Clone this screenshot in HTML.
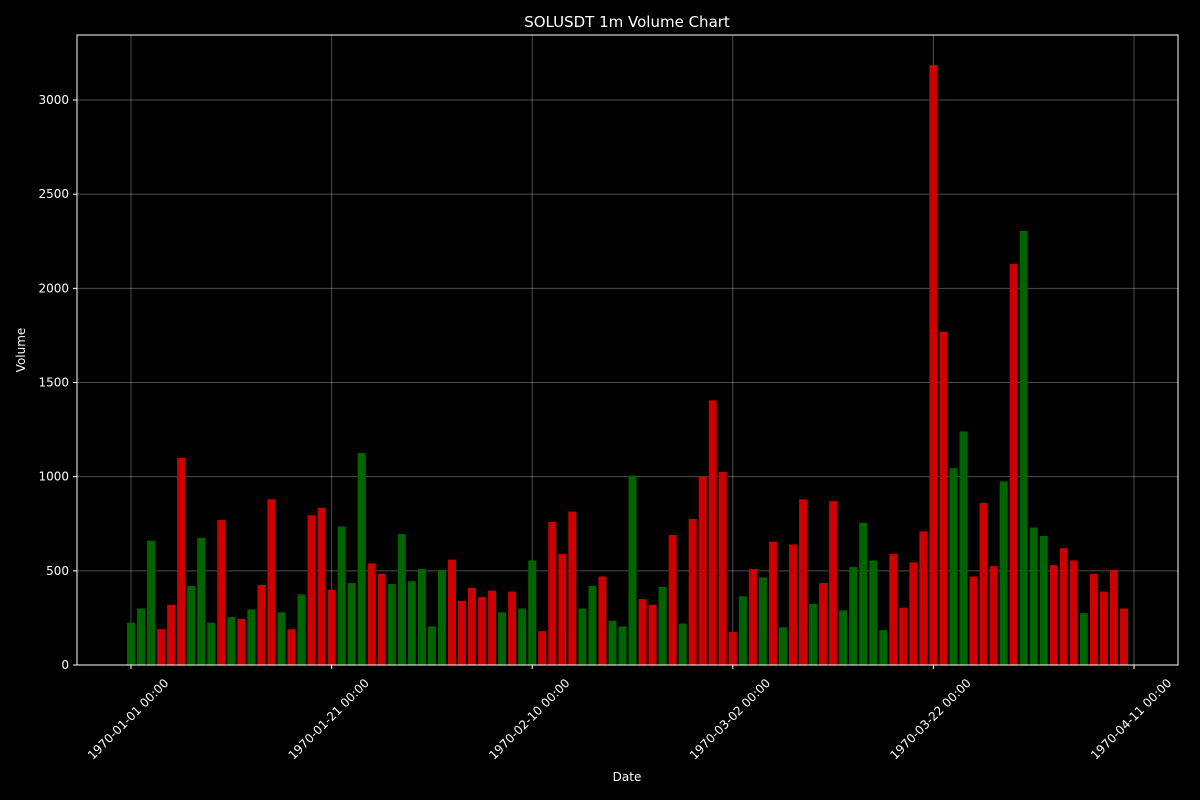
<!DOCTYPE html>
<html><head><meta charset="utf-8"><style>
html,body{margin:0;padding:0;background:#000;}
svg{display:block;font-family:"DejaVu Sans","Liberation Sans",sans-serif;}
</style></head><body>
<svg id="chart" width="1200" height="800" xmlns="http://www.w3.org/2000/svg">
<rect width="1200" height="800" fill="#000"/>
<text x="627" y="27" fill="#fff" font-size="15" text-anchor="middle">SOLUSDT 1m Volume Chart</text>
<text x="627" y="781" fill="#fff" font-size="12" text-anchor="middle">Date</text>
<text x="0" y="0" transform="translate(25,350) rotate(-90)" fill="#fff" font-size="12" text-anchor="middle">Volume</text>
<g id="grid"></g>
<g id="bars"></g>
<g id="axes"></g>
</svg>
<script>
const volumes = [225,300,660,190,320,1100,420,675,225,770,255,245,295,425,880,280,190,375,795,835,
400,735,435,1125,540,485,430,695,445,510,205,505,560,340,410,360,395,280,390,300,
555,180,760,590,815,300,420,470,235,205,1005,350,320,415,690,220,775,1000,1405,1025,
175,365,510,465,655,200,640,880,325,435,870,290,520,755,555,185,590,305,545,710,
3185,1770,1045,1240,470,860,525,975,2130,2305,730,685,530,620,555,275,485,390,505,300];
const directions = "GGGRRRGGGRGRGRRGRGRRRGGGRRGGGGGGRRRRRGRGGRRRRGGRGGGRRGRGRRRRRGRGRGRRGRRGGGGGRRRRRRGGRRRGRGGGRRRGRRRR";
const yTicks = [0,500,1000,1500,2000,2500,3000];
const xTickDays = [0,20,40,60,80,100];
const xTickLabels = ["1970-01-01 00:00","1970-01-21 00:00","1970-02-10 00:00","1970-03-02 00:00","1970-03-22 00:00","1970-04-11 00:00"];

const NS="http://www.w3.org/2000/svg";
const L=77,R=1178,T=35,B=665;
const xS=d=>131+d*(1134-131)/100;
const yS=v=>665-v*(565/3000);
function mk(tag,attrs,parent){const e=document.createElementNS(NS,tag);for(const k in attrs)e.setAttribute(k,attrs[k]);parent.appendChild(e);return e;}
const grid=document.getElementById('grid'),bars=document.getElementById('bars'),axes=document.getElementById('axes');
yTicks.forEach(v=>{
  const y=yS(v);
  const g=mk('line',{x1:L,x2:R,y1:y,y2:y,stroke:'#fff','stroke-opacity':0.3,'stroke-width':1},grid);
  
  
  const t=mk('line',{x1:L-4,x2:L,y1:y,y2:y,stroke:'#fff'},axes);
  
  
  const tx=mk('text',{x:L-8,y:y+4,fill:'#fff','font-size':12,'text-anchor':'end'},axes);
  tx.textContent=v;
  
  
});
xTickDays.forEach((d,i)=>{
  const x=xS(d);
  const g=mk('line',{x1:x,x2:x,y1:T,y2:B,stroke:'#fff','stroke-opacity':0.3,'stroke-width':1},grid);
  
  
  const t=mk('line',{x1:x,x2:x,y1:B,y2:B+4,stroke:'#fff'},axes);
  
  
  const tx=mk('text',{x:0,y:0,fill:'#fff','font-size':12,'text-anchor':'middle',transform:`translate(${x},${B+57}) rotate(-45)`},axes);
  tx.textContent=xTickLabels[i];
  
  
});
volumes.forEach((v,i)=>{
  const x=xS(i);
  const r=mk('rect',{x:x-4,y:yS(v),width:8,height:yS(0)-yS(v),fill:directions[i]==='G'?'#006400':'#cc0000'},bars);
  
  
});
const fr=mk('rect',{x:L,y:T,width:R-L,height:B-T,fill:'none',stroke:'#fff','stroke-width':1},axes);


</script>
</body></html>
